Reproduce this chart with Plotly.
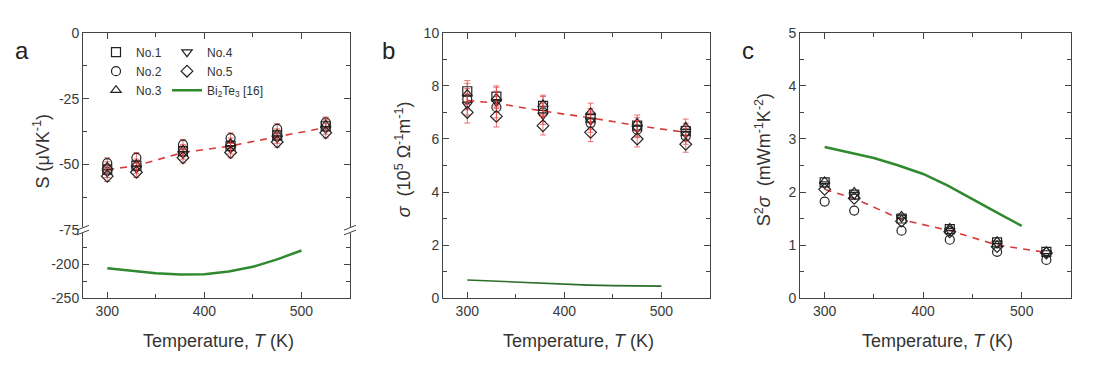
import plotly.graph_objects as go

# ---------------- data ----------------
T = [300, 330, 378, 427, 475, 525]
sample_names = ["No.1", "No.2", "No.3", "No.4", "No.5"]
sample_symbols = ["square-open", "circle-open", "triangle-up-open", "triangle-down-open", "diamond-open"]

S_no1 = [-52, -50.5, -45, -43, -39, -35.5]
S_no2 = [-49.5, -47.5, -42.5, -40, -36.5, -34]
S_no3 = [-51, -50, -44.5, -42, -38.5, -35]
S_no4 = [-53, -51.5, -46, -44, -40, -36.5]
S_no5 = [-54.5, -53, -47.5, -45.5, -41.5, -38]
S_fit = [-52, -50.5, -45.5, -43, -39.5, -36]
S_err = [2, 2, 2, 2, 2, 2]

sig_no1 = [7.8, 7.6, 7.25, 6.8, 6.5, 6.3]
sig_no2 = [7.5, 7.2, 7.0, 6.6, 6.35, 6.1]
sig_no3 = [7.7, 7.55, 7.3, 7.0, 6.6, 6.45]
sig_no4 = [7.3, 7.4, 6.9, 6.7, 6.4, 6.2]
sig_no5 = [7.0, 6.85, 6.5, 6.25, 6.0, 5.8]
sig_fit = [7.45, 7.35, 7.05, 6.8, 6.5, 6.25]
sig_err = [0.4, 0.4, 0.35, 0.35, 0.3, 0.3]

pf_no1 = [2.18, 1.95, 1.5, 1.3, 1.05, 0.87]
pf_no2 = [1.82, 1.65, 1.27, 1.1, 0.87, 0.72]
pf_no3 = [2.2, 2.0, 1.55, 1.32, 1.07, 0.88]
pf_no4 = [2.15, 1.95, 1.52, 1.27, 1.03, 0.85]
pf_no5 = [2.05, 1.88, 1.45, 1.25, 0.97, 0.85]
pf_fit = [2.05, 1.88, 1.48, 1.27, 1.0, 0.86]

T_bt = [300, 325, 350, 375, 400, 425, 450, 475, 500]
S_bt = [-206, -210, -213.5, -215.5, -215, -211, -204, -193, -180]
sig_bt = [0.68, 0.64, 0.6, 0.56, 0.52, 0.49, 0.47, 0.46, 0.45]
pf_bt = [2.85, 2.75, 2.64, 2.5, 2.34, 2.12, 1.86, 1.61, 1.36]

S_upper_ticks = [-75, -50, -25, 0]
S_upper_labels = ["-75", "-50", "-25", "0"]
S_lower_ticks = [-250, -200]
S_lower_labels = ["-250", "-200"]

S_all = [S_no1, S_no2, S_no3, S_no4, S_no5]
sig_all = [sig_no1, sig_no2, sig_no3, sig_no4, sig_no5]
pf_all = [pf_no1, pf_no2, pf_no3, pf_no4, pf_no5]

# ---------------- style ----------------
W, H = 1097, 375
FONT = "Liberation Sans, Arial, sans-serif"
AX = "#444"
RED = "#d93a3a"
ERR = "rgba(225,70,70,0.75)"
GREEN = "#2f8a2f"
MK = "#222"

def px_x(p):
    return p / W

def px_y(p):
    return 1 - p / H

fig = go.Figure()

legend_of = ["legend", "legend", "legend", "legend2", "legend2"]
DASH = "7px,6px"

# panel a (upper = x4/y4, lower = x/y)
fig.add_trace(go.Scatter(x=T, y=S_fit, mode="lines", xaxis="x4", yaxis="y4",
                         line=dict(color=RED, width=1.6, dash=DASH), showlegend=False))
for i in range(5):
    fig.add_trace(go.Scatter(
        x=T, y=S_all[i], mode="markers", xaxis="x4", yaxis="y4",
        name=sample_names[i], legend=legend_of[i],
        marker=dict(symbol=sample_symbols[i], size=9, color=MK, line=dict(width=1.2)),
        error_y=dict(type="data", array=S_err, color=ERR, thickness=1, width=3)))
fig.add_trace(go.Scatter(x=T_bt, y=S_bt, mode="lines", xaxis="x", yaxis="y",
                         name="Bi<sub>2</sub>Te<sub>3</sub> [16]", legend="legend2",
                         line=dict(color=GREEN, width=2.5)))

# panel b
fig.add_trace(go.Scatter(x=T, y=sig_fit, mode="lines", xaxis="x2", yaxis="y2",
                         line=dict(color=RED, width=1.6, dash=DASH), showlegend=False))
for i in range(5):
    fig.add_trace(go.Scatter(
        x=T, y=sig_all[i], mode="markers", xaxis="x2", yaxis="y2", showlegend=False,
        marker=dict(symbol=sample_symbols[i], size=9, color=MK, line=dict(width=1.2)),
        error_y=dict(type="data", array=sig_err, color=ERR, thickness=1, width=3)))
fig.add_trace(go.Scatter(x=T_bt, y=sig_bt, mode="lines", xaxis="x2", yaxis="y2",
                         showlegend=False, line=dict(color="#2a6e2a", width=1.6)))

# panel c
fig.add_trace(go.Scatter(x=T, y=pf_fit, mode="lines", xaxis="x3", yaxis="y3",
                         line=dict(color=RED, width=1.6, dash=DASH), showlegend=False))
for i in range(5):
    fig.add_trace(go.Scatter(
        x=T, y=pf_all[i], mode="markers", xaxis="x3", yaxis="y3", showlegend=False,
        marker=dict(symbol=sample_symbols[i], size=9, color=MK, line=dict(width=1.2))))
fig.add_trace(go.Scatter(x=T_bt, y=pf_bt, mode="lines", xaxis="x3", yaxis="y3",
                         showlegend=False, line=dict(color=GREEN, width=2.5)))

# ---------------- axes ----------------
top, bot, brk = px_y(26), px_y(303), px_y(232)
dom_a = [px_x(83), px_x(350)]
dom_b = [px_x(443), px_x(710)]
dom_c = [px_x(800), px_x(1071)]

tickfont = dict(family=FONT, size=14, color="#3a3a3a")
common = dict(showline=True, linecolor=AX, linewidth=1, ticks="inside", ticklen=6,
              tickcolor=AX, tickwidth=1, showgrid=False, zeroline=False, tickfont=tickfont)
xcommon = dict(common, range=[275, 550], tickvals=[300, 400, 500],
               minor=dict(tickvals=[350, 450], ticks="inside", ticklen=4, tickcolor=AX, showgrid=False))

fig.update_layout(
    xaxis=dict(xcommon, domain=dom_a, anchor="y"),
    yaxis=dict(common, domain=[bot, brk], anchor="x", range=[-250, -150], mirror="ticks",
               tickvals=S_lower_ticks, ticktext=S_lower_labels,
               minor=dict(tickvals=[-225, -175], ticks="inside", ticklen=4, tickcolor=AX, showgrid=False)),
    xaxis4=dict(xcommon, domain=dom_a, anchor="y4", side="top", matches="x", showticklabels=False),
    yaxis4=dict(common, domain=[brk, top], anchor="x4", range=[-75, 0], mirror="ticks",
                tickvals=S_upper_ticks, ticktext=S_upper_labels,
                minor=dict(dtick=12.5, tick0=0, ticks="inside", ticklen=4, tickcolor=AX, showgrid=False)),
    xaxis2=dict(xcommon, domain=dom_b, anchor="y2", mirror="ticks"),
    yaxis2=dict(common, domain=[bot, top], anchor="x2", range=[0, 10], dtick=2, mirror="ticks",
                minor=dict(dtick=1, ticks="inside", ticklen=4, tickcolor=AX, showgrid=False)),
    xaxis3=dict(xcommon, domain=dom_c, anchor="y3", mirror="ticks"),
    yaxis3=dict(common, domain=[bot, top], anchor="x3", range=[0, 5], dtick=1, mirror="ticks",
                minor=dict(dtick=0.5, ticks="inside", ticklen=4, tickcolor=AX, showgrid=False)),
)

# ---------------- legends ----------------
leg_common = dict(xanchor="left", yanchor="top", bgcolor="rgba(0,0,0,0)", borderwidth=0,
                  font=dict(family=FONT, size=12, color="#333"), tracegroupgap=0,
                  itemwidth=30)
fig.update_layout(
    legend=dict(leg_common, x=px_x(96), y=px_y(31)),
    legend2=dict(leg_common, x=px_x(167), y=px_y(31)),
)

# ---------------- text ----------------
ann = []
for lab, xp, yp in [("a", 22, 44), ("b", 388, 44), ("c", 748, 44)]:
    ann.append(dict(text=lab, x=px_x(xp), y=px_y(yp), xref="paper", yref="paper",
                    showarrow=False, font=dict(family=FONT, size=24, color="#222"),
                    xanchor="center", yanchor="middle"))
for xc in [218, 578, 937]:
    ann.append(dict(text="Temperature, <i>T</i> (K)", x=px_x(xc), y=px_y(348),
                    xref="paper", yref="paper", showarrow=False,
                    font=dict(family=FONT, size=18, color="#333"),
                    xanchor="center", yanchor="middle"))
for txt, xp, yp in [("S (μVK<sup>-1</sup>)", 42, 150),
                    ("<i>σ</i>  (10<sup>5</sup> Ω<sup>-1</sup>m<sup>-1</sup>)", 403, 158),
                    ("S<sup>2</sup><i>σ</i>  (mWm<sup>-1</sup>K<sup>-2</sup>)", 763, 159)]:
    ann.append(dict(text=txt, x=px_x(xp), y=px_y(yp), xref="paper", yref="paper",
                    showarrow=False, textangle=-90,
                    font=dict(family=FONT, size=18, color="#333"),
                    xanchor="center", yanchor="middle"))
fig.update_layout(annotations=ann)

# axis-break marks
shapes = []
for xb in [83, 350]:
    shapes.append(dict(type="rect", xref="paper", yref="paper",
                       x0=px_x(xb - 2), x1=px_x(xb + 2), y0=px_y(235), y1=px_y(229),
                       fillcolor="white", line=dict(width=0), layer="above"))
    for dy in (-2.5, 2.5):
        shapes.append(dict(type="line", xref="paper", yref="paper",
                           x0=px_x(xb - 6), y0=px_y(232 + dy + 2.5),
                           x1=px_x(xb + 6), y1=px_y(232 + dy - 2.5),
                           line=dict(color=AX, width=1), layer="above"))
fig.update_layout(shapes=shapes)

fig.update_layout(width=W, height=H, margin=dict(l=0, r=0, t=0, b=0),
                  paper_bgcolor="white", plot_bgcolor="white",
                  font=dict(family=FONT, color="#333"))

fig.write_html("out.html")
